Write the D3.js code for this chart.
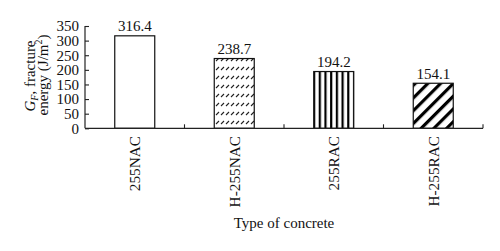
<!DOCTYPE html>
<html><head><meta charset="utf-8">
<script src="https://cdn.jsdelivr.net/npm/d3@7"></script>
<style>
html,body{margin:0;padding:0;background:#fff;}
svg{display:block;font-family:"Liberation Serif","Times New Roman",serif;}
</style></head>
<body>
<svg id="chart" width="500" height="251"></svg>
<script>
const categories = ["255NAC", "H-255NAC", "255RAC", "H-255RAC"];
const values = [316.4, 238.7, 194.2, 154.1];
const valueLabels = ["316.4", "238.7", "194.2", "154.1"];
const yTicks = [0, 50, 100, 150, 200, 250, 300, 350];
const fills = ["none", "url(#hatchSmall)", "url(#vlines)", "url(#diag)"];

const svg = d3.select("#chart");
const defs = svg.append("defs");

// small slanted dashes pattern
const p1 = defs.append("pattern").attr("id", "hatchSmall").attr("patternUnits", "userSpaceOnUse")
  .attr("width", 5).attr("height", 9).attr("x", 0).attr("y", 1);
p1.append("rect").attr("width", 5).attr("height", 9).attr("fill", "#fff");
p1.append("line").attr("x1", 1).attr("y1", 6).attr("x2", 4).attr("y2", 3)
  .attr("stroke", "#222").attr("stroke-width", 1.1);

// vertical lines
const p2 = defs.append("pattern").attr("id", "vlines").attr("patternUnits", "userSpaceOnUse")
  .attr("width", 5.7).attr("height", 10).attr("x", 313);
p2.append("rect").attr("width", 5.7).attr("height", 10).attr("fill", "#fff");
p2.append("rect").attr("x", 0).attr("width", 2.2).attr("height", 10).attr("fill", "#000");

// diagonal thick stripes (top-left to bottom-right)
const p3 = defs.append("pattern").attr("id", "diag").attr("patternUnits", "userSpaceOnUse")
  .attr("width", 9).attr("height", 9).attr("patternTransform", "rotate(45)");
p3.append("rect").attr("width", 9).attr("height", 9).attr("fill", "#fff");
p3.append("rect").attr("x", 0).attr("width", 3.2).attr("height", 9).attr("fill", "#000");

const x = d3.scaleBand().domain(categories).range([85, 483]).paddingInner(0.598).paddingOuter(0.299);
const y = d3.scaleLinear().domain([0, 350]).range([128.3, 26]);

// bars
svg.selectAll("rect.bar").data(values).enter().append("rect")
  .attr("class", "bar")
  .attr("x", (d, i) => x(categories[i]))
  .attr("y", d => y(d))
  .attr("width", x.bandwidth())
  .attr("height", d => y(0) - y(d))
  .attr("fill", (d, i) => fills[i] === "none" ? "#fff" : fills[i])
  .attr("stroke", "#111").attr("stroke-width", 1.2);

// value labels
svg.selectAll("text.val").data(values).enter().append("text")
  .attr("x", (d, i) => x(categories[i]) + x.bandwidth() / 2)
  .attr("y", d => y(d) - 4.5)
  .attr("text-anchor", "middle").attr("font-size", 15).attr("fill", "#111")
  .text((d, i) => valueLabels[i]);

// y axis
const yAxis = d3.axisLeft(y).tickValues(yTicks).tickSize(-4).tickPadding(6).tickFormat(d3.format("d"));
const gy = svg.append("g").attr("transform", "translate(85,0)").call(yAxis);
gy.select(".domain").attr("stroke", "#222").attr("stroke-width", 1.2).attr("d", `M0,${y(350)}V${y(0)}`);
gy.selectAll(".tick line").attr("stroke", "#222").attr("stroke-width", 1.1);
gy.selectAll(".tick text").attr("font-size", 15).attr("fill", "#111")
  .attr("font-family", "Liberation Serif, serif");

// x axis line and boundary ticks
const boundaries = categories.map(c => x(c) - x.step() * x.paddingInner() / 2).concat([483]);
svg.append("line").attr("x1", 85).attr("x2", 483).attr("y1", y(0)).attr("y2", y(0))
  .attr("stroke", "#222").attr("stroke-width", 1.3);
svg.selectAll("line.xt").data(boundaries.slice(1)).enter().append("line")
  .attr("x1", d => d).attr("x2", d => d).attr("y1", y(0)).attr("y2", y(0) - 4)
  .attr("stroke", "#222").attr("stroke-width", 1.1);

// x category labels (rotated)
svg.selectAll("text.cat").data(categories).enter().append("text")
  .attr("transform", d => `translate(${x(d) + x.bandwidth() / 2},136) rotate(-90)`)
  .attr("dy", "0.35em").attr("text-anchor", "end").attr("font-size", 15.3).attr("fill", "#111")
  .text(d => d);

// x title
svg.append("text").attr("x", 284).attr("y", 228).attr("text-anchor", "middle")
  .attr("font-size", 15).attr("fill", "#111").text("Type of concrete");

// y title (two lines)
const t1 = svg.append("text").attr("transform", "translate(35,76) rotate(-90)")
  .attr("text-anchor", "middle").attr("font-size", 15).attr("fill", "#111");
t1.append("tspan").attr("font-style", "italic").text("G");
t1.append("tspan").attr("font-style", "italic").attr("font-size", 10).attr("dy", 3).text("F");
t1.append("tspan").attr("dy", -3).text(", fracture");
const t2 = svg.append("text").attr("transform", "translate(48,75) rotate(-90)")
  .attr("text-anchor", "middle").attr("font-size", 15).attr("fill", "#111");
t2.append("tspan").text("energy (J/m");
t2.append("tspan").attr("font-size", 10).attr("dy", -6).text("2");
t2.append("tspan").attr("dy", 6).text(")");
</script>
</body></html>
